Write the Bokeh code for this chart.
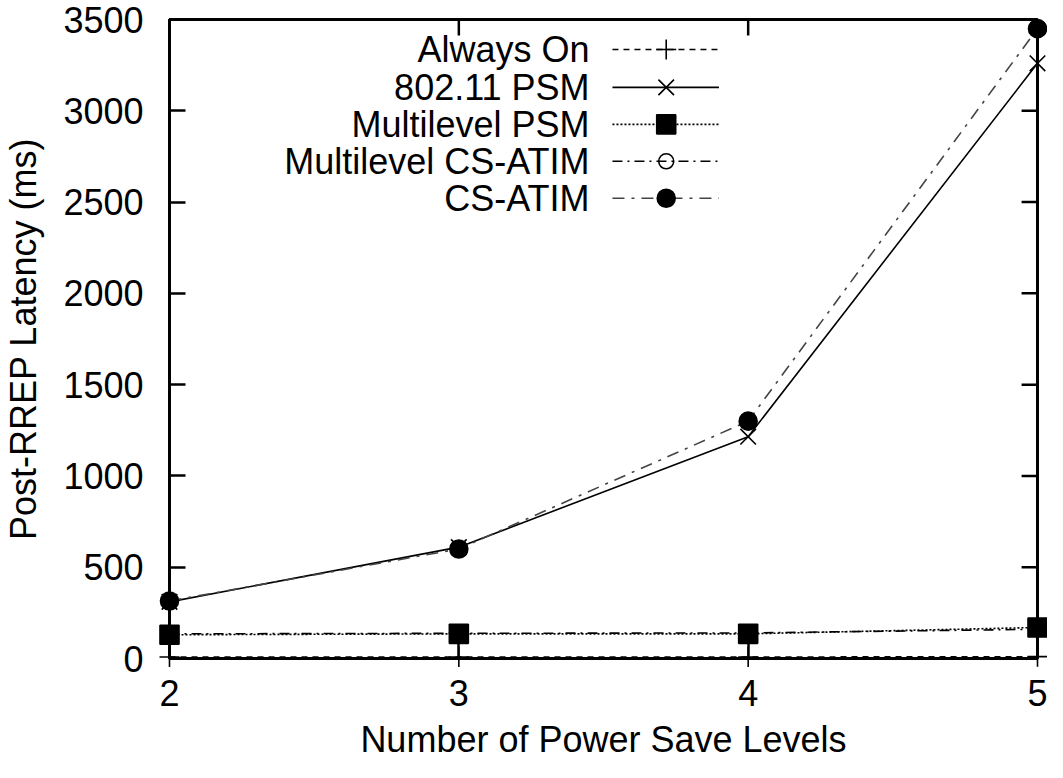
from bokeh.plotting import figure
from bokeh.models import Range1d, FixedTicker
from bokeh.core.properties import value
from bokeh.embed import file_html
from bokeh.resources import INLINE

# ---- data ----
levels = [2, 3, 4, 5]
always_on = [8, 8, 8, 10]
psm_80211 = [310, 610, 1215, 3260]
multilevel_psm = [130, 135, 135, 170]
multilevel_csatim = [135, 138, 140, 160]
cs_atim = [315, 600, 1300, 3450]

series_names = ["Always On", "802.11 PSM", "Multilevel PSM", "Multilevel CS-ATIM", "CS-ATIM"]
x_ticks = [2, 3, 4, 5]
y_ticks = [0, 500, 1000, 1500, 2000, 2500, 3000, 3500]

FONT = "Liberation Sans"
FS = "36px"

# frame geometry in page pixels (page has 8px margin)
X0, X1, Y0, Y1 = 173.0, 1045.0, 27.0, 667.0
XMIN, XMAX, YMIN, YMAX = 2, 5, 0, 3500

p = figure(width=1047, height=762, x_range=Range1d(XMIN, XMAX), y_range=Range1d(YMIN, YMAX),
           output_backend="svg", toolbar_location=None,
           min_border_left=int(X0 - 8), min_border_right=int(1055 - X1),
           min_border_top=int(Y0 - 8), min_border_bottom=int(770 - Y1))
p.grid.visible = False
p.outline_line_color = "black"
p.outline_line_width = 3
p.background_fill_color = "white"
p.border_fill_color = "white"


def style(ax):
    ax.axis_line_width = 3
    ax.axis_line_color = "black"
    ax.major_tick_line_width = 2.5
    ax.major_tick_line_color = "black"
    ax.major_tick_in = 16
    ax.major_tick_out = 0
    ax.minor_tick_line_color = None
    ax.major_label_text_font = FONT
    ax.major_label_text_font_size = FS
    ax.major_label_text_color = "black"
    ax.axis_label_text_font = FONT
    ax.axis_label_text_font_size = FS
    ax.axis_label_text_font_style = "normal"
    ax.axis_label_text_color = "black"


xb = p.xaxis[0]
style(xb)
xb.ticker = FixedTicker(ticks=x_ticks)
xb.major_label_standoff = 21
xb.axis_label = "Number of Power Save Levels"
xb.axis_label_standoff = 10

yl = p.yaxis[0]
style(yl)
yl.ticker = FixedTicker(ticks=y_ticks)
yl.major_label_standoff = 26
yl.axis_label = "Post-RREP Latency (ms)"
yl.axis_label_standoff = 16

# mirrored inward ticks on the right and top edges (gnuplot style)
TICK_PX = 16
tx = TICK_PX * (XMAX - XMIN) / (X1 - X0)
ty = TICK_PX * (YMAX - YMIN) / (Y1 - Y0)
p.segment(x0=[XMAX] * len(y_ticks), y0=y_ticks, x1=[XMAX - tx] * len(y_ticks), y1=y_ticks,
          line_color="black", line_width=2.5)
p.segment(x0=x_ticks, y0=[YMAX] * len(x_ticks), x1=x_ticks, y1=[YMAX - ty] * len(x_ticks),
          line_color="black", line_width=2.5)

# ---- series ----
styles = [
    dict(y=always_on, dash="6 5", color="black", width=1.6, marker="cross", size=20, fill="black"),
    dict(y=psm_80211, dash="solid", color="black", width=1.6, marker="x", size=22, fill="black"),
    dict(y=multilevel_psm, dash="2 2", color="black", width=1.6, marker="square", size=19, fill="black"),
    dict(y=multilevel_csatim, dash="10 5 2 5", color="black", width=1.6, marker="circle", size=15, fill=None),
    dict(y=cs_atim, dash="12 7 3 7", color="#444444", width=1.6, marker="circle", size=18, fill="black"),
]

for s in styles:
    p.line(levels, s["y"], line_color=s["color"], line_width=s["width"], line_dash=s["dash"])
for s in styles:
    r = p.scatter(levels, s["y"], marker=s["marker"], size=s["size"], line_color="black",
                  line_width=1.6, fill_color=s["fill"])
    r.level = "overlay"  # not clipped by the frame, as in the reference


# ---- gnuplot-style legend (text right-aligned, sample on the right) ----
def dx(px):
    return XMIN + (px - X0) * (XMAX - XMIN) / (X1 - X0)


def dy(py):
    return YMIN + (Y1 - py) * (YMAX - YMIN) / (Y1 - Y0)


rows = [57, 95, 132, 169, 206]
p.text(x=[dx(595)] * len(rows), y=[dy(r) for r in rows], text=series_names,
       text_align="right", text_baseline="middle", text_font=value(FONT),
       text_font_size=value(FS), text_color="black")
for r, s in zip(rows, styles):
    p.line([dx(618), dx(725)], [dy(r), dy(r)], line_color=s["color"], line_width=s["width"],
           line_dash=s["dash"])
    p.scatter([dx(672)], [dy(r)], marker=s["marker"], size=s["size"], line_color="black",
              line_width=1.6, fill_color=s["fill"])

open("out.html", "w").write(file_html(p, INLINE))
